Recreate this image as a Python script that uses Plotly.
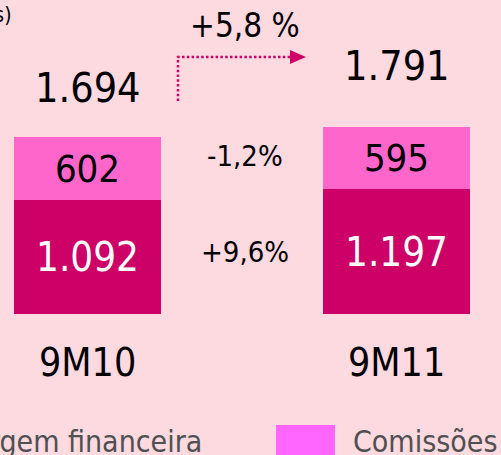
import plotly.graph_objects as go

# ---- data ----
categories = ["9M10", "9M11"]
margem_financeira = [1092, 1197]
comissoes = [602, 595]
totals = [1694, 1791]
total_labels = ["1.694", "1.791"]
margem_labels = ["1.092", "1.197"]
comissoes_labels = ["602", "595"]
growth_total = "+5,8 %"
growth_comissoes = "-1,2%"
growth_margem = "+9,6%"
legend_names = ["Margem financeira", "Comissões"]
unit_note = "(milhões de euros)"

W, H = 501, 455
BG = "#FDD9E0"
DARK = "#CC0066"
LIGHT = "#FF66CC"
LEG_LIGHT = "#FF66FF"
FONT = "DejaVu Sans Condensed, DejaVu Sans, sans-serif"

def px(x):
    return x / W

def py(y):
    return 1 - y / H

fig = go.Figure()
xs = [0, 1]
fig.add_trace(go.Bar(
    x=xs, y=margem_financeira, name=legend_names[0], marker_color=DARK,
    text=margem_labels, textposition="inside", insidetextanchor="middle",
    textangle=0, textfont=dict(family=FONT, size=40, color="white"),
    width=0.4757, marker_line_width=0, constraintext="none",
))
fig.add_trace(go.Bar(
    x=xs, y=comissoes, name=legend_names[1], marker_color=LIGHT,
    text=comissoes_labels, textposition="inside", insidetextanchor="middle",
    textangle=0, textfont=dict(family=FONT, size=38, color="black"),
    width=0.4757, marker_line_width=0, constraintext="none",
))

ann = []
# totals above bars
for x, t, lab, sh in zip(xs, totals, total_labels, [49, 61]):
    ann.append(dict(x=x, y=t, xref="x", yref="y", text=lab, showarrow=False,
                    yshift=sh, xanchor="center", yanchor="middle",
                    font=dict(family=FONT, size=41, color="black")))
# category labels
for x, c in zip(xs, categories):
    ann.append(dict(x=x, y=py(362), xref="x", yref="paper", text=c, showarrow=False,
                    xanchor="center", yanchor="middle",
                    font=dict(family=FONT, size=39, color="black")))
# growth labels
ann.append(dict(x=px(245), y=py(25), xref="paper", yref="paper", text=growth_total,
                showarrow=False, xanchor="center", yanchor="middle",
                font=dict(family=FONT, size=33, color="black")))
ann.append(dict(x=px(245), y=py(156), xref="paper", yref="paper", text=growth_comissoes,
                showarrow=False, xanchor="center", yanchor="middle",
                font=dict(family=FONT, size=29, color="black")))
ann.append(dict(x=px(245), y=py(252), xref="paper", yref="paper", text=growth_margem,
                showarrow=False, xanchor="center", yanchor="middle",
                font=dict(family=FONT, size=29, color="black")))
# unit note (cut off at left)
ann.append(dict(x=px(14), y=py(15), xref="paper", yref="paper", text=unit_note,
                showarrow=False, xanchor="right", yanchor="middle",
                font=dict(family=FONT, size=21, color="black")))
# legend texts
ann.append(dict(x=px(204), y=py(441), xref="paper", yref="paper", text=legend_names[0],
                showarrow=False, xanchor="right", yanchor="middle",
                font=dict(family=FONT, size=30, color="#505050")))
ann.append(dict(x=px(351), y=py(441), xref="paper", yref="paper", text=legend_names[1],
                showarrow=False, xanchor="left", yanchor="middle",
                font=dict(family=FONT, size=30, color="#505050")))

shapes = [
    # legend swatch
    dict(type="rect", xref="paper", yref="paper", x0=px(276), x1=px(335),
         y0=py(455), y1=py(425), fillcolor=LEG_LIGHT, line_width=0),
    # dotted growth arrow
    dict(type="path", xref="paper", yref="paper",
         path=f"M {px(178)} {py(101)} L {px(178)} {py(57)} L {px(291)} {py(57)}",
         line=dict(color=DARK, width=2.5, dash="2.5px,2.3px")),
    dict(type="path", xref="paper", yref="paper",
         path=f"M {px(290)} {py(50)} L {px(306)} {py(57)} L {px(290)} {py(64)} Z",
         fillcolor=DARK, line_width=0),
]

scale = 0.10445  # px per unit
fig.update_layout(
    width=W, height=H, barmode="stack", showlegend=False,
    paper_bgcolor=BG, plot_bgcolor=BG,
    margin=dict(l=0, r=0, t=0, b=0),
    xaxis=dict(range=[-87.5 / 309, (W - 87.5) / 309], visible=False, fixedrange=True),
    yaxis=dict(range=[-(H - 314) / scale, 314 / scale], visible=False, fixedrange=True),
    annotations=ann, shapes=shapes, bargap=0,
)
fig.write_html(
    "out.html",
    config={"displayModeBar": False},
    post_script="document.body.style.margin='0';document.body.style.overflow='hidden';",
)
